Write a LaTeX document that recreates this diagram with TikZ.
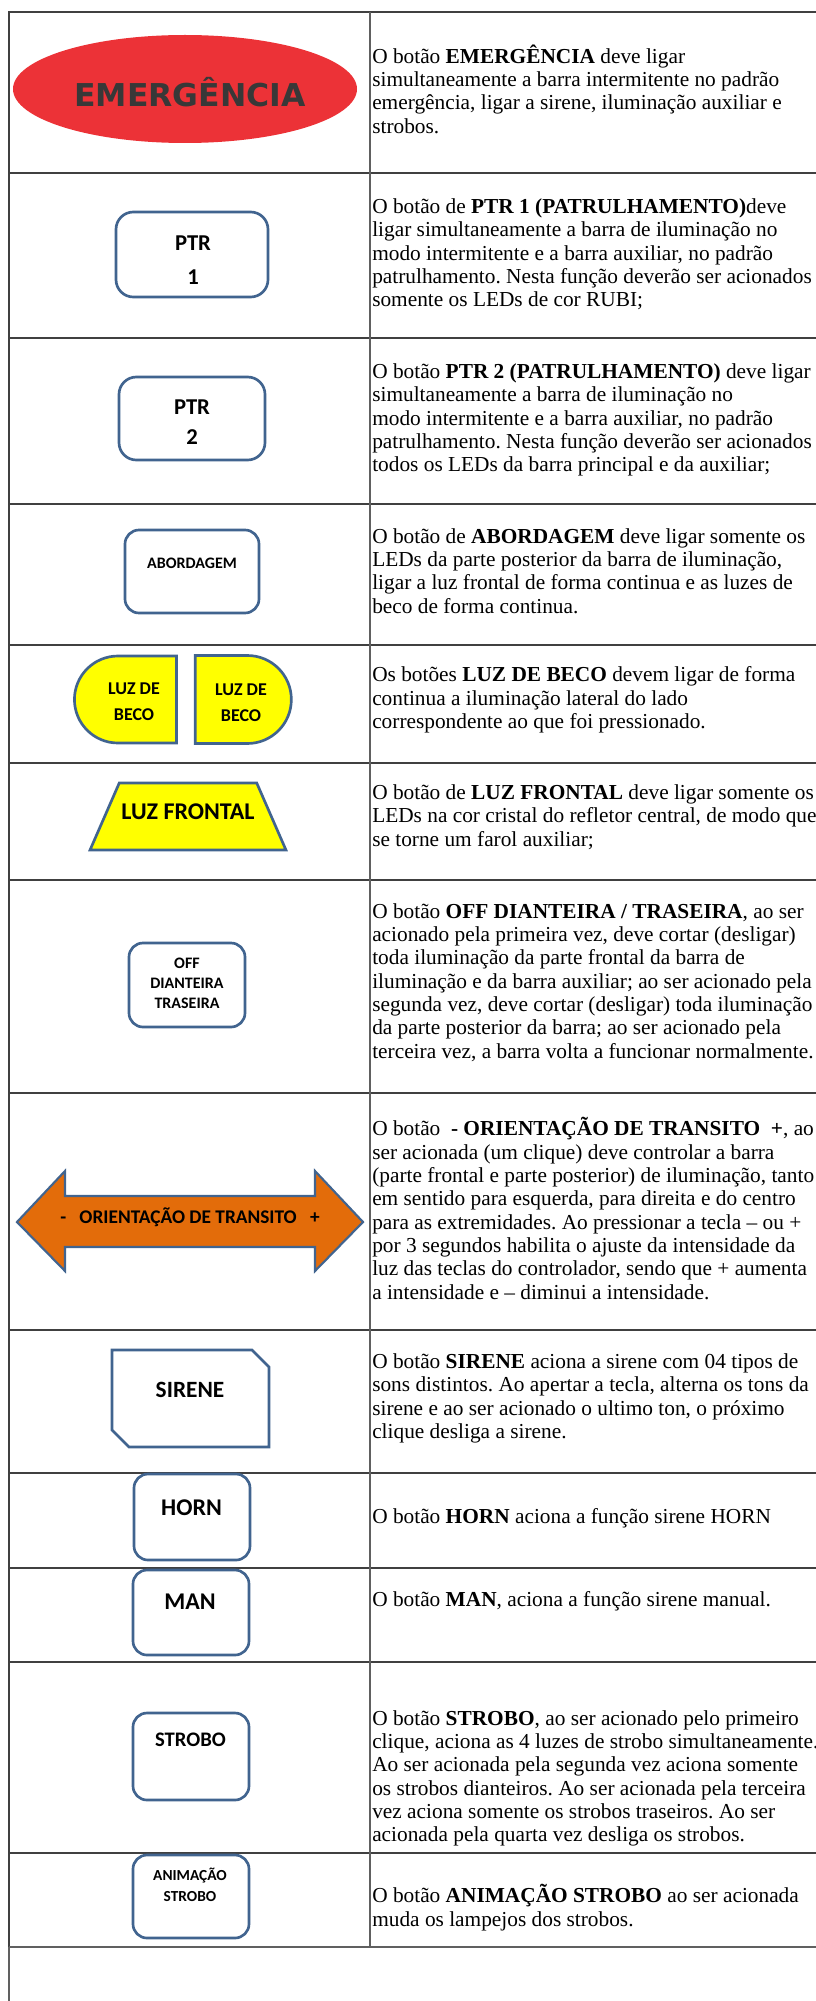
\documentclass[tikz,border=0pt]{standalone}
\usepackage{fontspec}
\setmainfont{Liberation Serif}
\newfontfamily\btnfont{Carlito}
\newfontfamily\emgfont{DejaVu Sans}
\usepackage{xcolor}
\usepackage{tikz}
\usetikzlibrary{shapes,arrows,positioning,calc}
\frenchspacing

\definecolor{emgred}{HTML}{EC3237}
\definecolor{emgtext}{HTML}{383838}
\definecolor{btnblue}{HTML}{41648F}
\definecolor{becoyellow}{HTML}{FFFF00}
\definecolor{transorange}{HTML}{E36C0A}
\definecolor{gridgray}{HTML}{404040}
\newcommand{\btnsz}[2]{\btnfont\bfseries\fontsize{#1}{#2}\selectfont}

\begin{document}
\begin{tikzpicture}[x=0.75pt, y=-0.75pt]
        \tikzstyle{btn} = [rectangle, draw=btnblue, line width=2pt, fill=white, rounded corners=10.5pt]
        \tikzstyle{btntext} = [align=center, inner sep=0pt]
        \tikzstyle{desc} = [anchor=west, align=left, inner sep=0pt, font=\fontsize{16}{17.5}\selectfont]
        \tikzstyle{rowline} = [draw=gridgray, line width=2.2pt]
        \tikzstyle{colline} = [draw=gray!75!black, line width=1.4pt]

        \useasboundingbox (0,0) rectangle (816,2001);

        % table grid
        \draw[rowline] (9,1947) -- (9,12) -- (816,12);
        \foreach \y in {173,338,504,645,763,880,1093,1330,1473,1568,1662,1853}
            \draw[rowline] (9,\y) -- (816,\y);
        \draw[colline] (370,12) -- (370,1947);
        \draw[colline] (9,1947) -- (816,1947);
        \draw[colline] (9,1947) -- (9,2001);

        % buttons
        \node [ellipse, fill=emgred, minimum width=258pt, minimum height=81pt] (emg) at (185,89) {};
        \node [inner sep=0pt, text=emgtext, font=\emgfont\bfseries\fontsize{23.6}{28}\selectfont] (emgtxt) at (190,92) {EMERGÊNCIA};

        \node [btn, minimum width=114pt, minimum height=63.75pt, rounded corners=13pt] (ptr1) at (192,254.5) {};
        \node [btntext, font=\btnsz{17}{25}] (ptr1txt) at (193,260) {PTR\\1};
        \node [btn, minimum width=109.5pt, minimum height=62.25pt, rounded corners=13pt] (ptr2) at (192,418.5) {};
        \node [btntext, font=\btnsz{17}{23}] (ptr2txt) at (192,422) {PTR\\2};

        \node [btn, minimum width=100.5pt, minimum height=62.25pt] (abord) at (192,571.5) {};
        \node [btntext, font=\btnsz{12}{15}] (abordtxt) at (192,563) {ABORDAGEM};

        \node [rounded rectangle, rounded rectangle right arc=none, draw=btnblue, line width=2pt, fill=becoyellow, minimum width=83.25pt, minimum height=65.25pt] (becoL) at (125.5,699.5) {};
        \node [rounded rectangle, rounded rectangle left arc=none, draw=btnblue, line width=2pt, fill=becoyellow, minimum width=78.75pt, minimum height=66pt, right=12pt of becoL] (becoR) {};
        \node [btntext, font=\btnsz{13.5}{19.5}] (becoLtxt) at (134,702) {LUZ DE\\BECO};
        \node [btntext, font=\btnsz{13.5}{19.5}] (becoRtxt) at (241,703) {LUZ DE\\BECO};

        \node [trapezium, trapezium angle=78, trapezium stretches=true, draw=btnblue, line width=2pt, fill=becoyellow, minimum width=147pt, minimum height=50.25pt] (frontal) at (188,816.5) {};
        \node [btntext, font=\btnsz{18}{20}] (frontaltxt) at (188,812) {LUZ FRONTAL};

        \node [btn, minimum width=87pt, minimum height=63pt] (off) at (187,985) {};
        \node [btntext, font=\btnsz{12}{15}] (offtxt) at (187,983) {OFF\\DIANTEIRA\\TRASEIRA};

        \draw [draw=btnblue, line width=1.6pt, fill=transorange] (17,1222) -- (65,1171) -- (65,1196) -- (315,1196) -- (315,1171) -- (363,1222) -- (315,1271) -- (315,1247) -- (65,1247) -- (65,1271) -- cycle;
        \node [btntext, font=\btnsz{14.5}{18}] (transtxt) at (190,1217) {-\hspace{10pt}ORIENTAÇÃO DE TRANSITO\hspace{10pt}+};

        \draw [draw=btnblue, line width=2pt, fill=white] (112,1350) -- (252,1350) -- (269,1367) -- (269,1447) -- (129,1447) -- (112,1430) -- cycle;
        \node [btntext, font=\btnsz{17.5}{20}] (sirenetxt) at (190,1390) {SIRENE};

        \node [btn, minimum width=87pt, minimum height=64.5pt] (horn) at (192,1517) {};
        \node [btntext, font=\btnsz{18}{20}] (horntxt) at (191.5,1508) {HORN};
        \node [btn, minimum width=87pt, minimum height=63.75pt] (man) at (191,1612.5) {};
        \node [btntext, font=\btnsz{18}{20}] (mantxt) at (190,1602) {MAN};
        \node [btn, minimum width=87pt, minimum height=65.25pt] (strobo) at (191,1756.5) {};
        \node [btntext, font=\btnsz{15.5}{18}] (strobotxt) at (190.5,1740) {STROBO};
        \node [btn, minimum width=87pt, minimum height=62.25pt] (anim) at (191,1896.5) {};
        \node [btntext, font=\btnsz{11.5}{16}] (animtxt) at (190,1885) {ANIMAÇÃO\\STROBO};

        % descriptions
        \node [desc] (emgdesc) at (372,89) {O botão \textbf{EMERGÊNCIA} deve ligar\\simultaneamente a barra intermitente no padrão\\emergência, ligar a sirene, iluminação auxiliar e\\strobos.};
        \node [desc] (ptr1desc) at (372,254.5) {O botão de \textbf{PTR 1 (PATRULHAMENTO)}deve\\ligar simultaneamente a barra de iluminação no\\modo intermitente e a barra auxiliar, no padrão\\patrulhamento. Nesta função deverão ser acionados\\somente os LEDs de cor RUBI;};
        \node [desc] (ptr2desc) at (372,420) {O botão \textbf{PTR 2 (PATRULHAMENTO)} deve ligar\\simultaneamente a barra de iluminação no\\modo intermitente e a barra auxiliar, no padrão\\patrulhamento. Nesta função deverão ser acionados\\todos os LEDs da barra principal e da auxiliar;};
        \node [desc] (aborddesc) at (372,571) {O botão de \textbf{ABORDAGEM} deve ligar somente os\\LEDs da parte posterior da barra de iluminação,\\ligar a luz frontal de forma continua e as luzes de\\beco de forma continua.};
        \node [desc] (becodesc) at (372,700) {Os botões \textbf{LUZ DE BECO} devem ligar de forma\\continua a iluminação lateral do lado\\correspondente ao que foi pressionado.};
        \node [desc] (frontaldesc) at (372,817) {O botão de \textbf{LUZ FRONTAL} deve ligar somente os\\LEDs na cor cristal do refletor central, de modo que\\se torne um farol auxiliar;};
        \node [desc] (offdesc) at (372,982.5) {O botão \textbf{OFF DIANTEIRA / TRASEIRA}, ao ser\\acionado pela primeira vez, deve cortar (desligar)\\toda iluminação da parte frontal da barra de\\iluminação e da barra auxiliar; ao ser acionado pela\\segunda vez, deve cortar (desligar) toda iluminação\\da parte posterior da barra; ao ser acionado pela\\terceira vez, a barra volta a funcionar normalmente.};
        \node [desc] (transdesc) at (372,1208.5) {O botão \ \textbf{- ORIENTAÇÃO DE TRANSITO \ +}, ao\\ser acionada (um clique) deve controlar a barra\\(parte frontal e parte posterior) de iluminação, tanto\\em sentido para esquerda, para direita e do centro\\para as extremidades. Ao pressionar a tecla – ou +\\por 3 segundos habilita o ajuste da intensidade da\\luz das teclas do controlador, sendo que + aumenta\\a intensidade e – diminui a intensidade.};
        \node [desc] (sirenedesc) at (372,1398.5) {O botão \textbf{SIRENE} aciona a sirene com 04 tipos de\\sons distintos. Ao apertar a tecla, alterna os tons da\\sirene e ao ser acionado o ultimo ton, o próximo\\clique desliga a sirene.};
        \node [desc] (horndesc) at (372,1518) {O botão \textbf{HORN} aciona a função sirene HORN};
        \node [desc] (mandesc) at (372,1601) {O botão \textbf{MAN}, aciona a função sirene manual.};
        \node [desc] (strobodesc) at (372,1778.5) {O botão \textbf{STROBO}, ao ser acionado pelo primeiro\\clique, aciona as 4 luzes de strobo simultaneamente.\\Ao ser acionada pela segunda vez aciona somente\\os strobos dianteiros. Ao ser acionada pela terceira\\vez aciona somente os strobos traseiros. Ao ser\\acionada pela quarta vez desliga os strobos.};
        \node [desc] (animdesc) at (372,1907.5) {O botão \textbf{ANIMAÇÃO STROBO} ao ser acionada\\muda os lampejos dos strobos.};
\end{tikzpicture}
\end{document}
